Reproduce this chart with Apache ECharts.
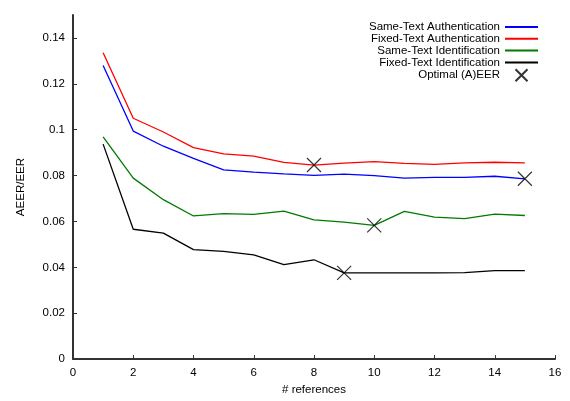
<!DOCTYPE html>
<html><head><meta charset="utf-8">
<script src="https://cdn.jsdelivr.net/npm/echarts@6/dist/echarts.min.js"></script>
<style>html,body{margin:0;padding:0;background:#fff}#c{width:570px;height:401px}</style>
</head><body><div id="c"></div>
<script>
const refs = [1,2,3,4,5,6,7,8,9,10,11,12,13,14,15];
const sameTextAuth  = [0.1280,0.0994,0.0928,0.0875,0.0825,0.0815,0.0807,0.0801,0.0806,0.0800,0.0789,0.0792,0.0792,0.0797,0.0786];
const fixedTextAuth = [0.1335,0.1050,0.0990,0.0922,0.0895,0.0885,0.0858,0.0846,0.0854,0.0861,0.0853,0.0849,0.0855,0.0858,0.0855];
const sameTextId    = [0.0969,0.0789,0.0695,0.0624,0.0634,0.0631,0.0645,0.0607,0.0597,0.0583,0.0644,0.0619,0.0612,0.0632,0.0626];
const fixedTextId   = [0.0937,0.0566,0.0549,0.0477,0.0470,0.0454,0.0412,0.0433,0.0376,0.0376,0.0376,0.0376,0.0377,0.0386,0.0386];
const optimalX = [8,15,10,9];
const optimalY = [0.0846,0.0786,0.0583,0.0376];
const yTicks = [0,0.02,0.04,0.06,0.08,0.1,0.12,0.14];
const xTicks = [0,2,4,6,8,10,12,14,16];
const names = ['Same-Text Authentication','Fixed-Text Authentication','Same-Text Identification','Fixed-Text Identification','Optimal (A)EER'];

const font = 'Liberation Sans, Arial, sans-serif';
const pair = (xs, ys) => xs.map((x, i) => [x, ys[i]]);
const lineSeries = (name, data, color) => ({
  name, type: 'line', data: pair(refs, data), symbol: 'none', showSymbol: false,
  lineStyle: { color, width: 1.3 }, itemStyle: { color }, z: 2, animation: false
});
const legendData = names.map((n, i) => i < 4
  ? { name: n, itemStyle: { color: 'transparent', borderWidth: 0, opacity: 0 } }
  : { name: n });

const chart = echarts.init(document.getElementById('c'), null, { renderer: 'canvas' });
chart.setOption({
  animation: false,
  grid: { left: 73, right: 15, top: 15, bottom: 38, containLabel: false },
  legend: {
    orient: 'vertical', right: 26, top: 16, align: 'right',
    itemWidth: 33, itemHeight: 12, itemGap: -0.2,
    textStyle: { fontFamily: font, fontSize: 11.5, color: '#000' },
    data: legendData
  },
  xAxis: {
    type: 'value', min: 0, max: 16, interval: 2,
    name: '# references', nameLocation: 'middle', nameGap: 24,
    nameTextStyle: { fontFamily: font, fontSize: 11.5, color: '#000' },
    axisLine: { onZero: false, lineStyle: { color: '#333', width: 2 } },
    axisTick: { inside: true, length: 4, lineStyle: { color: '#333', width: 1 }, customValues: xTicks },
    axisLabel: { fontFamily: font, fontSize: 11.5, color: '#000', margin: 8, customValues: xTicks },
    splitLine: { show: false }
  },
  yAxis: {
    type: 'value', min: 0, max: 0.15, interval: 0.02,
    name: 'AEER/EER', nameLocation: 'middle', nameGap: 46, nameRotate: 90,
    nameTextStyle: { fontFamily: font, fontSize: 11.5, color: '#000' },
    axisLine: { onZero: false, lineStyle: { color: '#333', width: 2 } },
    axisTick: { inside: true, length: 4, lineStyle: { color: '#333', width: 1 }, customValues: yTicks },
    axisLabel: { fontFamily: font, fontSize: 11.5, color: '#000', margin: 8, customValues: yTicks,
      formatter: v => String(+v.toFixed(2)) },
    splitLine: { show: false }
  },
  series: [
    lineSeries(names[0], sameTextAuth, '#0000ff'),
    lineSeries(names[1], fixedTextAuth, '#ff0000'),
    lineSeries(names[2], sameTextId, '#007a00'),
    lineSeries(names[3], fixedTextId, '#000000'),
    {
      name: names[4], type: 'scatter', data: pair(optimalX, optimalY),
      symbol: 'path://M0,0 L10,10 M10,0 L0,10', symbolSize: 14,
      itemStyle: { color: 'transparent', borderColor: '#000', borderWidth: 1.2 },
      z: 5, animation: false
    }
  ]
});
</script></body></html>
